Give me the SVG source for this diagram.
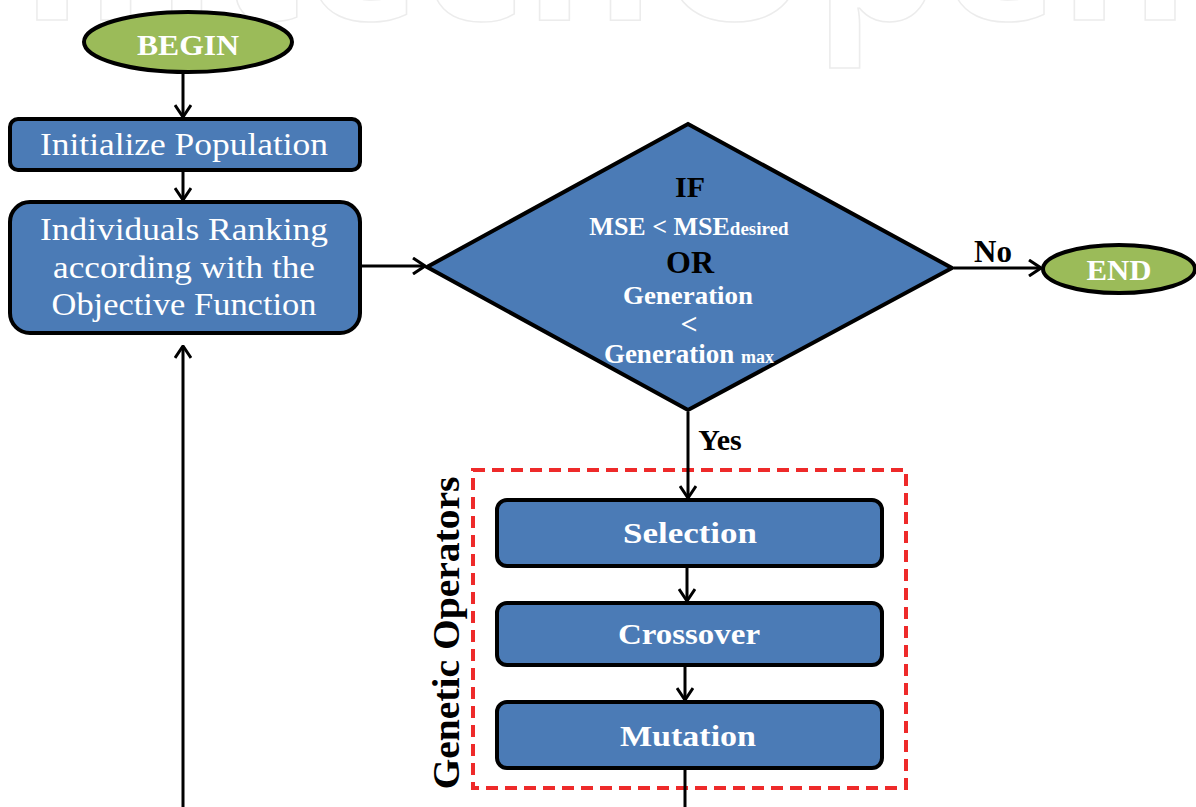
<svg xmlns="http://www.w3.org/2000/svg" width="1196" height="807" viewBox="0 0 1196 807">
<style>
.wm{font-family:"Open Sans","Liberation Sans",sans-serif;font-weight:bold;font-size:197px;fill:none;stroke:#ececec;stroke-width:1.5}
.box{fill:#4B7BB6;stroke:#000;stroke-width:4}
.oval{fill:#9BBB59;stroke:#000;stroke-width:4}
.t{font-family:"Liberation Serif","Times New Roman",serif;fill:#fff;text-anchor:middle}
.tb{font-family:"Liberation Serif","Times New Roman",serif;font-weight:bold;text-anchor:middle}
.w{fill:#fff}
.k{fill:#000}
.conn line,.conn path{stroke:#000;stroke-width:3;fill:none}
</style>
<defs>
<marker id="ah" viewBox="0 0 14 18" refX="13" refY="9" markerWidth="14" markerHeight="18" markerUnits="userSpaceOnUse" orient="auto">
<path d="M1,1 L13,9 L1,17" fill="none" stroke="#000" stroke-width="3"/>
</marker>
</defs>
<rect width="1196" height="807" fill="#fff"/>
<text class="wm" x="19" y="20" textLength="1171" lengthAdjust="spacingAndGlyphs">IntechOpen</text>

<g id="begin">
<ellipse class="oval" cx="188" cy="42" rx="104" ry="30"/>
<text class="tb w" x="188" y="55" font-size="30" textLength="102" lengthAdjust="spacingAndGlyphs">BEGIN</text>
</g>

<g id="init">
<rect class="box" x="10" y="119" width="350" height="51" rx="8"/>
<text class="t" x="184" y="155" font-size="32" textLength="288" lengthAdjust="spacingAndGlyphs">Initialize Population</text>
</g>

<g id="ranking">
<rect class="box" x="10" y="202" width="350" height="131" rx="20"/>
<text class="t" x="184" y="240" font-size="31" textLength="288" lengthAdjust="spacingAndGlyphs">Individuals Ranking</text>
<text class="t" x="184" y="278" font-size="31" textLength="262" lengthAdjust="spacingAndGlyphs">according with the</text>
<text class="t" x="184" y="315" font-size="31" textLength="265" lengthAdjust="spacingAndGlyphs">Objective Function</text>
</g>

<g id="decision">
<polygon points="688,124 952,268 688,410 427,267" fill="#4B7BB6" stroke="#000" stroke-width="4" stroke-linejoin="miter"/>
<text class="tb k" x="690" y="197" font-size="30">IF</text>
<text class="tb w" x="689" y="235" font-size="26">MSE &lt; MSE<tspan font-size="19">desired</tspan></text>
<text class="tb k" x="690" y="273" font-size="32">OR</text>
<text class="tb w" x="688" y="304" font-size="26" textLength="130" lengthAdjust="spacingAndGlyphs">Generation</text>
<text class="tb w" x="689" y="334" font-size="30">&lt;</text>
<text class="tb w" x="689" y="363" font-size="27">Generation <tspan font-size="18">max</tspan></text>
</g>

<g id="end">
<ellipse class="oval" cx="1119" cy="269" rx="76" ry="24"/>
<text class="tb w" x="1119" y="280" font-size="30" textLength="65" lengthAdjust="spacingAndGlyphs">END</text>
</g>

<g id="genetic-operators">
<rect x="473" y="470" width="433" height="318" fill="none" stroke="#EE2A2A" stroke-width="4" stroke-dasharray="12,7"/>
<text class="tb k" transform="translate(459,633) rotate(-90)" x="0" y="0" font-size="38" textLength="313" lengthAdjust="spacingAndGlyphs">Genetic Operators</text>
</g>

<g id="selection">
<rect class="box" x="497" y="500" width="385" height="66" rx="10"/>
<text class="tb w" x="690" y="543" font-size="30" textLength="134" lengthAdjust="spacingAndGlyphs">Selection</text>
</g>

<g id="crossover">
<rect class="box" x="497" y="603" width="385" height="62" rx="10"/>
<text class="tb w" x="689" y="644" font-size="30" textLength="142" lengthAdjust="spacingAndGlyphs">Crossover</text>
</g>

<g id="mutation">
<rect class="box" x="497" y="702" width="385" height="66" rx="10"/>
<text class="tb w" x="688" y="746" font-size="30" textLength="136" lengthAdjust="spacingAndGlyphs">Mutation</text>
</g>

<g class="conn" id="connectors">
<line x1="183" y1="74" x2="183" y2="117" marker-end="url(#ah)"/>
<line x1="183" y1="172" x2="183" y2="200" marker-end="url(#ah)"/>
<line x1="362" y1="266" x2="425" y2="266" marker-end="url(#ah)"/>
<line x1="954" y1="268" x2="1041" y2="268" marker-end="url(#ah)"/>
<line x1="688" y1="412" x2="688" y2="498" marker-end="url(#ah)"/>
<line x1="687" y1="568" x2="687" y2="601" marker-end="url(#ah)"/>
<line x1="685" y1="667" x2="685" y2="700" marker-end="url(#ah)"/>
<line x1="685" y1="770" x2="685" y2="807"/>
<line x1="183" y1="807" x2="183" y2="346" marker-end="url(#ah)"/>
<text class="tb k" x="993" y="262" font-size="31">No</text>
<text class="tb k" x="720" y="450" font-size="30">Yes</text>
</g>
</svg>
